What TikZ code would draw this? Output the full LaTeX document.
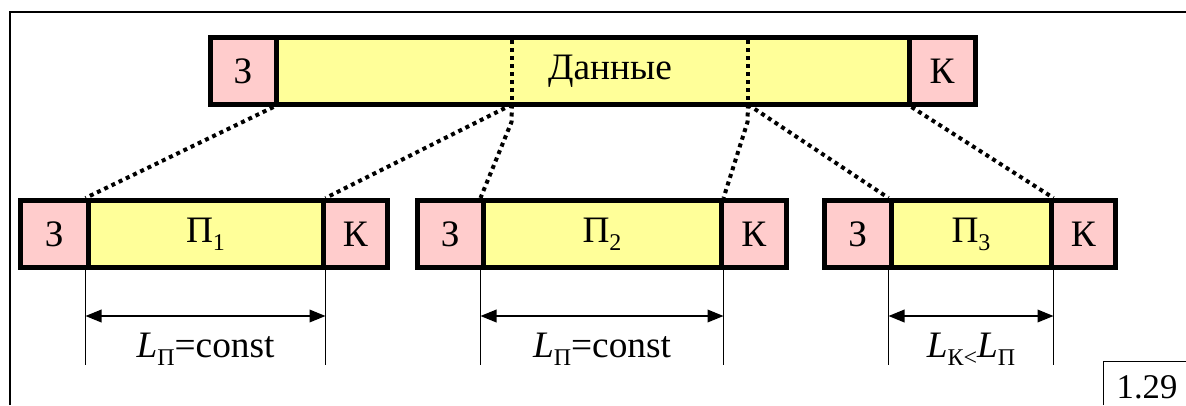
\documentclass[tikz,border=0pt]{standalone}
\usepackage{fontspec}
\setmainfont{Liberation Serif}
\usetikzlibrary{arrows.meta}
\tikzset{every picture/.style={line width=0.75pt}}
\tikzset{
  cell/.style={draw, line width=3.75pt, inner sep=0pt, minimum height=67*0.75pt},
  hcell/.style={cell, fill={rgb, 255:red, 255; green, 204; blue, 204 }},
  dcell/.style={cell, fill={rgb, 255:red, 255; green, 255; blue, 153 }},
  dotline/.style={line width=3pt, dash pattern=on 3pt off 3pt},
  dimline/.style={line width=1.1pt},
  dimarrow/.style={line width=1.1pt, arrows={Triangle[length=12pt,width=9.5pt]-Triangle[length=12pt,width=9.5pt]}}
}
\newcommand{\lsub}[1]{\raisebox{-0.22em}{\fontsize{18}{18}\selectfont #1}}

\begin{document}
\begin{tikzpicture}[x=0.75pt,y=0.75pt,yscale=-1,xscale=1,font=\fontsize{28}{33}\selectfont]
\useasboundingbox (0,0) rectangle (1186,405);

%Frame
\draw [line width=1.5pt]  (9.5,405) -- (9.5,12) -- (1186,12) ;
\draw [line width=1.1pt]  (1103.5,405) -- (1103.5,361.5) -- (1186,361.5) ;

%Shape: top frame
\node [hcell, minimum width=66*0.75pt] (z0) at (243,71) {З};
\node [dcell, minimum width=633*0.75pt] (dat) at (592.5,71) {};
\node [hcell, minimum width=66*0.75pt] (k0) at (942,71) {К};

%Shape: packet 1
\node [hcell, minimum width=67.5*0.75pt] (z1) at (54.25,234) {З};
\node [dcell, minimum width=235*0.75pt] (p1) at (205.5,234) {П\lsub{1}};
\node [hcell, minimum width=64.5*0.75pt] (k1) at (355.25,234) {К};
%Shape: packet 2
\node [hcell, minimum width=65.5*0.75pt] (z2) at (450.25,234) {З};
\node [dcell, minimum width=238*0.75pt] (p2) at (602,234) {П\lsub{2}};
\node [hcell, minimum width=65.5*0.75pt] (k2) at (753.75,234) {К};
%Shape: packet 3
\node [hcell, minimum width=66.5*0.75pt] (z3) at (857.75,234) {З};
\node [dcell, minimum width=160*0.75pt] (p3) at (971,234) {П\lsub{3}};
\node [hcell, minimum width=64.5*0.75pt] (k3) at (1083.25,234) {К};

%Dotted split lines
\coordinate (s1) at (512,104.5);
\coordinate (s2) at (748,104.5);
\draw [dotline]  (512,40) -- (s1) ;
\draw [dotline]  (748,40) -- (s2) ;
\draw [dotline]  (dat.south west) -- (p1.north west) ;
\draw [dotline]  (s1) -- (p1.north east) ;
\draw [dotline]  (s1) -- (511.5,122) -- (p2.north west) ;
\draw [dotline]  (s2) -- (747.5,122) -- (p2.north east) ;
\draw [dotline]  (s2) -- (p3.north west) ;
\draw [dotline]  (dat.south east) -- (p3.north east) ;

%Dimension lines
\foreach \n in {1,2,3}{
  \draw [dimline]  (p\n.south west) -- ++(0,95) ;
  \draw [dimline]  (p\n.south east) -- ++(0,95) ;
  \path (p\n.south west) ++(0,46) coordinate (al\n) ;
  \path (p\n.south east) ++(0,46) coordinate (ar\n) ;
  \draw [dimarrow]  (al\n) -- (ar\n) ;
}

% Text Node
\node (datl) at (610,71) {Данные};
% Text Node
\node [anchor=base] (lp1) at (205.5,357) {\textit{L}\lsub{П}=const};
% Text Node
\node [anchor=base] (lp2) at (602,357) {\textit{L}\lsub{П}=const};
% Text Node
\node [anchor=base] (lk3) at (971,357) {\textit{L}\lsub{К<}\textit{L}\lsub{П}};
% Text Node
\node [anchor=base, font=\fontsize{26}{30}\selectfont, inner sep=0pt] (fig) at (1147,398) {1.29};

\end{tikzpicture}
\end{document}
